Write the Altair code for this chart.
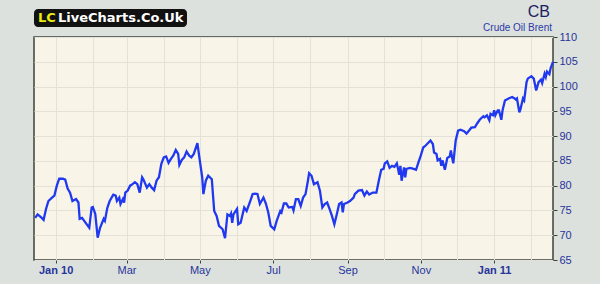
import altair as alt
import pandas as pd

# Day offsets from 2010-01-01 and Brent price (USD/bbl)
days = [-17,-15,-12,-10,-8,-6,-3,-1,1,3,6,8,10,12,14,17,19,20,22,25,28,30,31,33,35,37,40,41,43,45,
        48,50,51,53,54,56,57,58,60,62,64,66,68,70,72,73,76,78,80,82,84,86,88,90,92,94,96,98,100,102,
        103,105,107,109,111,113,115,118,120,122,123,125,127,130,132,134,136,139,141,143,145,146,147,148,
        151,152,154,157,159,162,164,166,168,170,173,175,177,179,182,184,187,188,190,192,194,197,198,200,
        202,204,206,208,210,211,213,215,218,220,222,224,226,228,230,232,234,236,238,239,240,243,245,248,
        249,252,255,257,259,261,264,267,269,271,273,274,276,278,280,282,284,285,286,287,288,290,291,292,
        295,298,300,302,304,306,308,310,312,314,315,317,318,320,321,322,324,326,328,329,330,331,333,335,
        337,340,342,344,346,349,351,353,356,357,359,361,362,364,365,366,368,369,371,372,374,377,380,382,
        383,384,386,387,389,390,392,393,396,398,400,402,404,405,407,408,409,411,412,414]
prices = [73.5,74.2,73.6,73.1,75.3,76.9,77.6,78.0,80.0,81.4,81.4,81.2,79.4,78.6,76.9,77.3,76.6,73.3,73.5,72.5,
          71.5,75.6,75.7,74.3,69.5,71.5,73.3,72.9,75.5,76.9,78.2,78.0,76.9,77.6,76.3,77.3,76.6,78.6,79.0,80.0,
          80.3,80.7,80.3,78.6,81.7,81.3,79.6,80.3,79.6,79.1,81.0,81.7,84.4,85.7,85.9,84.6,85.4,86.1,87.2,86.4,
          84.2,85.2,85.7,86.9,86.1,85.7,86.4,88.6,85.1,81.7,78.3,81.0,82.0,81.3,74.9,73.9,71.9,71.2,69.4,74.2,
          73.9,74.4,72.5,74.2,75.3,72.2,72.5,75.6,74.9,76.9,78.3,78.4,78.3,76.3,77.6,76.4,74.6,71.9,71.2,72.9,
          74.9,74.6,76.4,76.4,75.6,75.7,75.0,77.3,77.3,75.9,77.6,78.3,81.0,82.5,82.0,80.3,80.7,79.0,75.6,76.3,
          76.6,75.3,73.9,72.2,74.2,76.3,76.6,74.6,76.3,76.6,76.9,77.6,78.3,79.0,79.1,78.0,78.8,78.2,78.6,78.6,
          81.0,83.2,83.4,84.5,84.9,83.6,84.0,83.8,84.5,83.4,82.2,84.0,81.0,83.7,81.7,83.4,83.6,83.4,83.2,84.7,
          86.1,87.7,88.1,88.6,89.1,88.4,86.7,86.4,85.1,85.4,84.0,85.1,83.2,85.6,85.9,87.1,85.7,84.5,89.1,91.1,
          91.3,91.0,90.5,91.1,91.7,91.8,92.6,93.3,94.0,93.8,94.2,93.2,94.5,94.2,95.2,94.2,95.2,95.2,93.3,95.2,
          97.2,97.6,97.9,97.6,97.4,97.6,94.8,95.5,97.6,97.2,100.9,101.6,102.1,101.6,99.2,100.9,101.4,100.7,102.6,101.9,
          103.0,102.5,103.7,105.0]

y_ticks = [65, 70, 75, 80, 85, 90, 95, 100, 105, 110]
month_ticks = ["2010-01-01", "2010-02-01", "2010-03-01", "2010-04-01", "2010-05-01", "2010-06-01",
               "2010-07-01", "2010-08-01", "2010-09-01", "2010-10-01", "2010-11-01", "2010-12-01",
               "2011-01-01", "2011-02-01"]
title_main = "CB"
title_sub = "Crude Oil Brent"
logo_a = "LC"
logo_b = "LiveCharts.Co.Uk"

df = pd.DataFrame({
    "date": pd.Timestamp("2010-01-01") + pd.to_timedelta(days, unit="D"),
    "price": prices,
})

W, H = 519, 223
LABEL = "#27349c"

month_dt = [alt.DateTime(year=int(m[:4]), month=int(m[5:7]), date=1) for m in month_ticks]

line = alt.Chart(df).mark_line(color="#2038f0", strokeWidth=2.3, interpolate="linear").encode(
    x=alt.X("date:T", scale=alt.Scale(domain=[alt.DateTime(year=2009, month=12, date=14),
                                               alt.DateTime(year=2011, month=2, date=19)]),
            axis=alt.Axis(values=month_dt, title=None, domain=False, grid=True,
                          gridColor="#e4e2d8", gridWidth=1,
                          tickSize=3, tickColor="#3a433d",
                          tickOpacity=alt.expr("month(datum.value) % 2 == 0 ? 1 : 0"),
                          labelExpr="month(datum.value) == 0 ? 'Jan ' + timeFormat(datum.value, '%y') : (month(datum.value) % 2 == 0 ? timeFormat(datum.value, '%b') : '')",
                          labelFontWeight=alt.expr("month(datum.value) == 0 ? 'bold' : 'normal'"),
                          labelColor=LABEL, labelFont="Liberation Sans", labelFontSize=11,
                          labelPadding=1, labelFlush=False, labelOverlap=False)),
    y=alt.Y("price:Q", scale=alt.Scale(domain=[65, 110], nice=False, zero=False),
            axis=alt.Axis(orient="right", values=y_ticks, title=None, domain=False, grid=True,
                          gridColor="#e4e2d8", gridWidth=1, tickSize=4, tickColor="#3a433d",
                          labelColor=LABEL, labelFont="Liberation Sans", labelFontSize=11,
                          labelPadding=2)),
)

one = pd.DataFrame({"a": [0]})
logo_box = alt.Chart(one).mark_rect(fill="#111111", cornerRadius=4).encode(
    x=alt.value(0), x2=alt.value(153), y=alt.value(-28), y2=alt.value(-10))
logo_lc = alt.Chart(pd.DataFrame({"t": [logo_a]})).mark_text(
    align="left", baseline="middle", font="DejaVu Sans", fontWeight="bold", fontSize=13,
    color="#e8ea10").encode(text="t:N", x=alt.value(4), y=alt.value(-19))
logo_name = alt.Chart(pd.DataFrame({"t": [logo_b]})).mark_text(
    align="left", baseline="middle", font="DejaVu Sans", fontWeight="bold", fontSize=13,
    color="#ffffff").encode(text="t:N", x=alt.value(24), y=alt.value(-19))
t_main = alt.Chart(pd.DataFrame({"t": [title_main]})).mark_text(
    align="right", baseline="alphabetic", font="Liberation Sans", fontSize=16,
    color="#1c2260").encode(text="t:N", x=alt.value(516), y=alt.value(-20))
t_sub = alt.Chart(pd.DataFrame({"t": [title_sub]})).mark_text(
    align="right", baseline="alphabetic", font="Liberation Sans", fontSize=10,
    color="#2d3aa8").encode(text="t:N", x=alt.value(518), y=alt.value(-6))

chart = alt.layer(line, logo_box, logo_lc, logo_name, t_main, t_sub).properties(
    width=W, height=H,
    autosize=alt.AutoSizeParams(type="none"),
    padding={"left": 34, "top": 37, "right": 47, "bottom": 24},
    background="#dce1dd",
).configure_view(fill="#f8f5e8", stroke="#3a433d", strokeWidth=1.5)

chart.save("out.html", embed_options={"renderer": "svg", "actions": False})
